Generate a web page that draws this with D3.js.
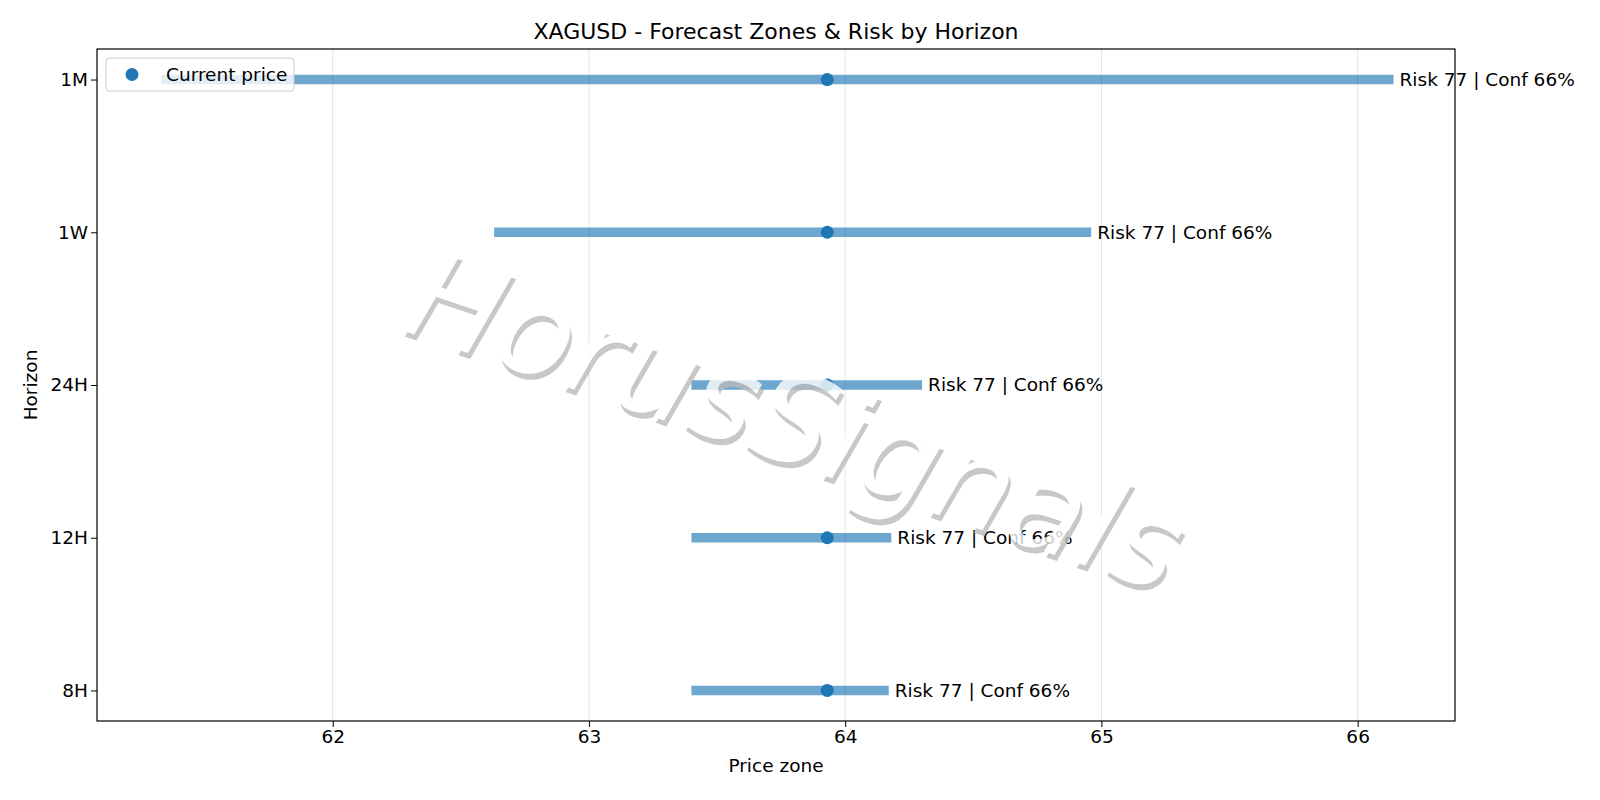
<!DOCTYPE html>
<html>
<head>
<meta charset="utf-8">
<script src="https://cdn.jsdelivr.net/npm/d3@7"></script>
<style>
body { margin: 0; background: #fff; }
text { font-family: "DejaVu Sans", sans-serif; }
</style>
</head>
<body>
<div id="chart"></div>
<script>
const horizons = ["8H", "12H", "24H", "1W", "1M"];
const zoneLow = [63.40, 63.40, 63.40, 62.63, 61.33];
const zoneHigh = [64.17, 64.18, 64.30, 64.96, 66.14];
const currentPrice = 63.93;
const risk = [77, 77, 77, 77, 77];
const conf = [66, 66, 66, 66, 66];
const xTicks = [62, 63, 64, 65, 66];

const width = 1600, height = 800;
const m = { left: 97, right: 145, top: 49, bottom: 79 };
const fs = "18.5px";

const svg = d3.select("#chart").append("svg")
    .attr("width", width)
    .attr("height", height);

const x = d3.scaleLinear().domain([61.08, 66.38]).range([m.left, width - m.right]);
const y = d3.scaleLinear().domain([-0.2, 4.2]).range([height - m.bottom, m.top]);

// grid
svg.append("g").selectAll("line")
    .data(xTicks)
    .enter().append("line")
    .attr("x1", d => x(d)).attr("x2", d => x(d))
    .attr("y1", m.top).attr("y2", height - m.bottom)
    .style("stroke", "#e3e3e3").style("stroke-width", 1);

const rows = horizons.map((h, i) => ({ h, i, lo: zoneLow[i], hi: zoneHigh[i], risk: risk[i], conf: conf[i] }));

svg.append("g").selectAll("line")
    .data(rows)
    .enter().append("line")
    .attr("x1", d => x(d.lo)).attr("x2", d => x(d.hi))
    .attr("y1", d => y(d.i)).attr("y2", d => y(d.i))
    .style("stroke", "#1f77b4").style("stroke-opacity", 0.65).style("stroke-width", 9.5);

svg.append("g").selectAll("circle")
    .data(rows)
    .enter().append("circle")
    .attr("cx", x(currentPrice)).attr("cy", d => y(d.i)).attr("r", 6.5)
    .style("fill", "#1f77b4");

svg.append("g").selectAll("text")
    .data(rows)
    .enter().append("text")
    .attr("x", d => x(d.hi) + 6).attr("y", d => y(d.i))
    .attr("dy", "0.35em")
    .style("font-size", fs)
    .text(d => `Risk ${d.risk} | Conf ${d.conf}%`);

// watermark
const wm = svg.append("g")
    .attr("transform", "translate(796,420) rotate(19)")
    .style("opacity", 0.8);
wm.append("text")
    .attr("x", 4).attr("y", 5)
    .attr("text-anchor", "middle").attr("dy", "0.35em")
    .style("font-size", "124px").style("font-style", "italic")
    .style("fill", "#bbb")
    .text("HorusSignals");
wm.append("text")
    .attr("text-anchor", "middle").attr("dy", "0.35em")
    .style("font-size", "124px").style("font-style", "italic")
    .style("fill", "#fff")
    .text("HorusSignals");

// axes
const xAxis = svg.append("g")
    .attr("transform", `translate(0,${height - m.bottom})`)
    .call(d3.axisBottom(x).tickValues(xTicks).tickFormat(d3.format("d")).tickSize(6).tickSizeOuter(0));
const yAxis = svg.append("g")
    .attr("transform", `translate(${m.left},0)`)
    .call(d3.axisLeft(y).tickValues(d3.range(horizons.length)).tickFormat(i => horizons[i]).tickSize(6).tickSizeOuter(0));
[xAxis, yAxis].forEach(a => {
    a.selectAll("text").style("font-size", fs).style("font-family", "DejaVu Sans").style("fill", "#000");
    a.select(".domain").remove();
    a.selectAll(".tick line").style("stroke", "#000");
});

svg.append("rect")
    .attr("x", m.left).attr("y", m.top)
    .attr("width", width - m.left - m.right).attr("height", height - m.top - m.bottom)
    .style("fill", "none").style("stroke", "#000").style("stroke-width", 1.2);

svg.append("text")
    .attr("x", (m.left + width - m.right) / 2).attr("y", 39)
    .attr("text-anchor", "middle").style("font-size", "22px")
    .text("XAGUSD - Forecast Zones & Risk by Horizon");
svg.append("text")
    .attr("x", (m.left + width - m.right) / 2).attr("y", 772)
    .attr("text-anchor", "middle").style("font-size", fs)
    .text("Price zone");
svg.append("text")
    .attr("transform", `translate(37,${(m.top + height - m.bottom) / 2}) rotate(-90)`)
    .attr("text-anchor", "middle").style("font-size", fs)
    .text("Horizon");

// legend
const lg = svg.append("g").attr("transform", "translate(106,58)");
lg.append("rect")
    .attr("width", 188).attr("height", 33).attr("rx", 3)
    .style("fill", "#fff").style("fill-opacity", 0.8)
    .style("stroke", "#ccc");
lg.append("circle").attr("cx", 26).attr("cy", 16.5).attr("r", 6.5).style("fill", "#1f77b4");
lg.append("text").attr("x", 60).attr("y", 16.5).attr("dy", "0.35em")
    .style("font-size", fs).text("Current price");
</script>
</body>
</html>
